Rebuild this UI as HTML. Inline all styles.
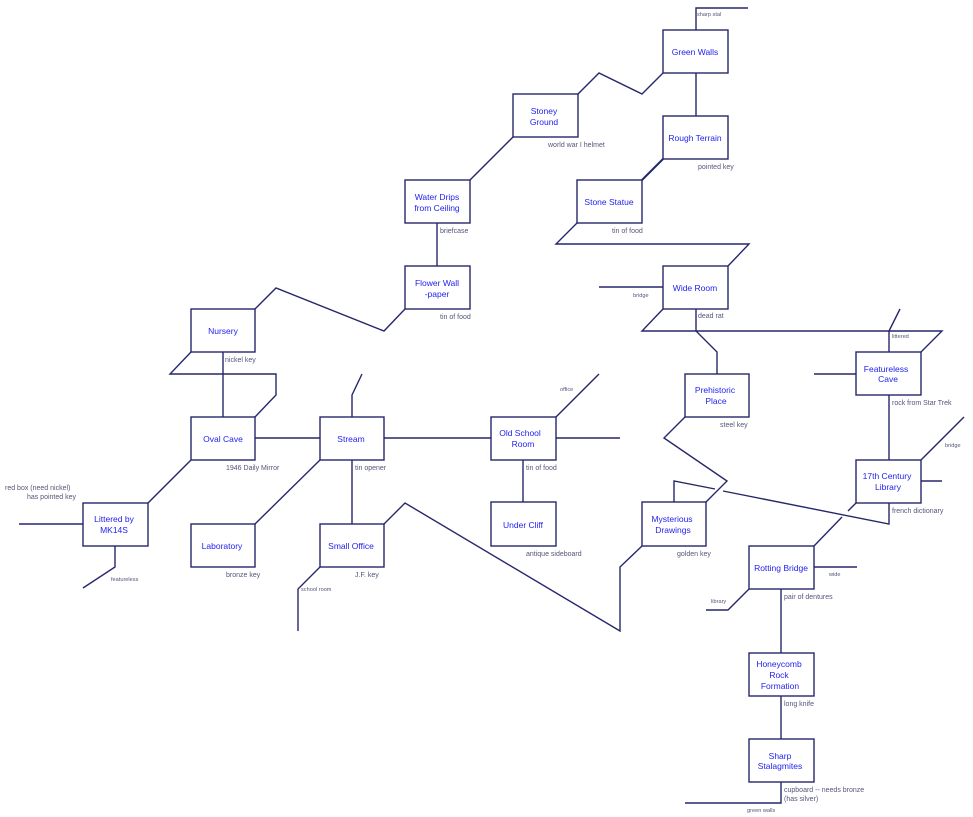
<!DOCTYPE html>
<html><head><meta charset="utf-8"><style>
html,body{margin:0;padding:0;background:#fff;}
svg{display:block;}
.b{fill:#fff;stroke:#27276c;stroke-width:1.4;}
.l{fill:none;stroke:#27276c;stroke-width:1.4;}
.t{font-family:"Liberation Sans","DejaVu Sans",sans-serif;font-size:8.5px;fill:#2222ee;text-anchor:middle;}
.s{font-family:"Liberation Sans","DejaVu Sans",sans-serif;font-size:7px;fill:#55557a;}
.xs{font-family:"Liberation Sans","DejaVu Sans",sans-serif;font-size:5.6px;fill:#55557a;}
</style></head><body>
<svg width="973" height="817" viewBox="0 0 973 817" xmlns="http://www.w3.org/2000/svg">
<g class="l">
<polyline points="696,30 696,8 748,8"/>
<polyline points="663,73 642,94 599,73 578,94"/>
<line x1="696" y1="73" x2="696" y2="116"/>
<line x1="663" y1="159" x2="642" y2="180" style="stroke-width:2"/>
<polyline points="577,223 556,244 749,244 728,266"/>
<line x1="599" y1="287" x2="663" y2="287"/>
<polyline points="663,309 642,331 942,331 921,352"/>
<polyline points="696,309 696,331 717,352 717,374"/>
<polyline points="889,352 889,331 900,309"/>
<line x1="814" y1="374" x2="856" y2="374"/>
<line x1="889" y1="395" x2="889" y2="460"/>
<line x1="921" y1="460" x2="964" y2="417"/>
<line x1="921" y1="481" x2="942" y2="481"/>
<line x1="856" y1="503" x2="848" y2="511"/>
<line x1="842" y1="517" x2="814" y2="546"/>
<polyline points="889,503 889,524 723,491"/>
<polyline points="715,489 674,481 674,502"/>
<polyline points="685,417 664,438 727,481 706,502"/>
<polyline points="642,546 620,567 620,631 405,503 384,524"/>
<line x1="814" y1="567" x2="857" y2="567"/>
<polyline points="749,589 728,610 706,610"/>
<line x1="781" y1="589" x2="781" y2="653"/>
<line x1="781" y1="696" x2="781" y2="739"/>
<polyline points="781,782 781,803 685,803"/>
<line x1="556" y1="417" x2="599" y2="374"/>
<line x1="556" y1="438" x2="620" y2="438"/>
<line x1="523" y1="460" x2="523" y2="502"/>
<line x1="255" y1="438" x2="320" y2="438"/>
<line x1="384" y1="438" x2="491" y2="438"/>
<polyline points="352,417 352,395 362,374"/>
<line x1="352" y1="460" x2="352" y2="524"/>
<line x1="320" y1="460" x2="255" y2="524"/>
<polyline points="320,567 298,589 298,631"/>
<line x1="223" y1="417" x2="223" y2="352"/>
<polyline points="255,417 276,395 276,374 170,374 191,352"/>
<line x1="191" y1="460" x2="148" y2="503"/>
<line x1="19" y1="524" x2="83" y2="524"/>
<polyline points="115,546 115,567 83,588"/>
<polyline points="255,309 276,288 384,331 405,309"/>
<line x1="437" y1="266" x2="437" y2="223"/>
<line x1="470" y1="180" x2="513" y2="137"/>
</g>
<g class="b">
<rect x="663" y="30" width="65" height="43"/>
<rect x="513" y="94" width="65" height="43"/>
<rect x="663" y="116" width="65" height="43"/>
<rect x="405" y="180" width="65" height="43"/>
<rect x="577" y="180" width="65" height="43"/>
<rect x="405" y="266" width="65" height="43"/>
<rect x="663" y="266" width="65" height="43"/>
<rect x="191" y="309" width="64" height="43"/>
<rect x="856" y="352" width="65" height="43"/>
<rect x="685" y="374" width="64" height="43"/>
<rect x="191" y="417" width="64" height="43"/>
<rect x="320" y="417" width="64" height="43"/>
<rect x="491" y="417" width="65" height="43"/>
<rect x="856" y="460" width="65" height="43"/>
<rect x="83" y="503" width="65" height="43"/>
<rect x="642" y="502" width="64" height="44"/>
<rect x="491" y="502" width="65" height="44"/>
<rect x="191" y="524" width="64" height="43"/>
<rect x="320" y="524" width="64" height="43"/>
<rect x="749" y="546" width="65" height="43"/>
<rect x="749" y="653" width="65" height="43"/>
<rect x="749" y="739" width="65" height="43"/>
</g>
<g class="t">
<text x="695" y="55">Green Walls</text>
<text x="544" y="114">Stoney</text><text x="544" y="125">Ground</text>
<text x="695" y="141">Rough Terrain</text>
<text x="437" y="200">Water Drips</text><text x="437" y="211">from Ceiling</text>
<text x="609" y="205">Stone Statue</text>
<text x="437" y="286">Flower Wall</text><text x="437" y="297">-paper</text>
<text x="695" y="291">Wide Room</text>
<text x="223" y="334">Nursery</text>
<text x="886" y="372">Featureless</text><text x="888" y="382">Cave</text>
<text x="715" y="393">Prehistoric</text><text x="716" y="404">Place</text>
<text x="223" y="442">Oval Cave</text>
<text x="351" y="442">Stream</text>
<text x="520" y="436">Old School</text><text x="523" y="447">Room</text>
<text x="887" y="479">17th Century</text><text x="888" y="490">Library</text>
<text x="114" y="522">Littered by</text><text x="114" y="533">MK14S</text>
<text x="672" y="522">Mysterious</text><text x="673" y="533">Drawings</text>
<text x="523" y="528">Under Cliff</text>
<text x="222" y="549">Laboratory</text>
<text x="351" y="549">Small Office</text>
<text x="781" y="571">Rotting Bridge</text>
<text x="779" y="667">Honeycomb</text><text x="779" y="678">Rock</text><text x="780" y="689">Formation</text>
<text x="780" y="759">Sharp</text><text x="780" y="769">Stalagmites</text>
</g>
<g class="s">
<text x="548" y="147">world war I helmet</text>
<text x="698" y="169">pointed key</text>
<text x="440" y="233">briefcase</text>
<text x="612" y="233">tin of food</text>
<text x="440" y="319">tin of food</text>
<text x="698" y="318">dead rat</text>
<text x="225" y="362">nickel key</text>
<text x="892" y="405">rock from Star Trek</text>
<text x="720" y="427">steel key</text>
<text x="226" y="470">1946 Daily Mirror</text>
<text x="355" y="470">tin opener</text>
<text x="526" y="470">tin of food</text>
<text x="5" y="490">red box (need nickel)</text>
<text x="76" y="499" text-anchor="end">has pointed key</text>
<text x="892" y="513">french dictionary</text>
<text x="526" y="556">antique sideboard</text>
<text x="677" y="556">golden key</text>
<text x="226" y="577">bronze key</text>
<text x="355" y="577">J.F. key</text>
<text x="784" y="599">pair of dentures</text>
<text x="784" y="706">long knife</text>
<text x="784" y="792">cupboard -- needs bronze</text>
<text x="784" y="801">(has silver)</text>
</g>
<g class="xs">
<text x="697" y="16">sharp stal</text>
<text x="633" y="297">bridge</text>
<text x="892" y="338">littered</text>
<text x="560" y="391">office</text>
<text x="945" y="447">bridge</text>
<text x="111" y="581">featureless</text>
<text x="301" y="591">school room</text>
<text x="829" y="576">wide</text>
<text x="711" y="603">library</text>
<text x="747" y="812">green walls</text>
</g>
</svg>
</body></html>
